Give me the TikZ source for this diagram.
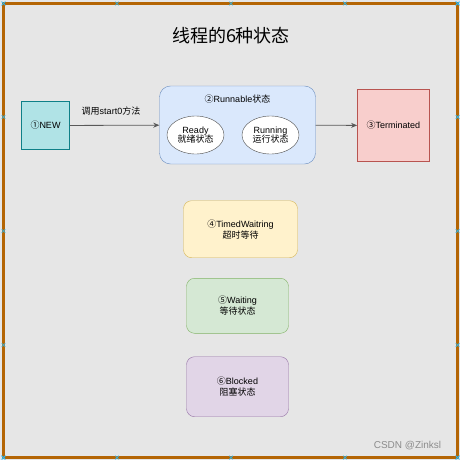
\documentclass[tikz,border=0pt]{standalone}
\usepackage{fontspec}
\setmainfont{Liberation Sans}
\newfontfamily\cjk{Noto Sans CJK SC}
\usetikzlibrary{arrows.meta}
\usetikzlibrary{shapes.geometric}

\definecolor{bgcol}{HTML}{E6E6E6}
\definecolor{framecol}{HTML}{B46504}
\definecolor{handlecol}{HTML}{29B6F2}
\definecolor{newfill}{HTML}{B0E3E6}
\definecolor{newdraw}{HTML}{0E8088}
\definecolor{runfill}{HTML}{DAE8FC}
\definecolor{rundraw}{HTML}{6C8EBF}
\definecolor{termfill}{HTML}{F8CECC}
\definecolor{termdraw}{HTML}{B85450}
\definecolor{timedfill}{HTML}{FFF2CC}
\definecolor{timeddraw}{HTML}{D6B656}
\definecolor{waitfill}{HTML}{D5E8D4}
\definecolor{waitdraw}{HTML}{82B366}
\definecolor{blockfill}{HTML}{E1D5E7}
\definecolor{blockdraw}{HTML}{9673A6}

\tikzset{
  statebox/.style={draw, inner sep=0pt, align=center, font=\fontsize{9}{11}\selectfont},
  roundbox/.style={statebox, rounded corners=8pt},
  oval/.style={ellipse, draw=black!70, fill=white, inner sep=0pt, align=center,
    minimum width=57pt, minimum height=38pt, font=\fontsize{9}{10}\selectfont},
  flow/.style={draw=black!65, line width=0.8pt, -{Stealth[length=6pt,width=5pt]}}
}

\begin{document}
\begin{tikzpicture}[x=1pt,y=-1pt]
\useasboundingbox (0,0) rectangle (460,460);
\fill[bgcol] (0,0) rectangle (460,460);
\draw[framecol, line width=3pt] (3.5,3.5) rectangle (457.5,457.5);

\def\hs{1.8}
\foreach \p in {3.5,117,231,345,457.5}
{
\draw[handlecol, line width=0.7pt] (\p-\hs,3.5-\hs) -- (\p+\hs,3.5+\hs) (\p-\hs,3.5+\hs) -- (\p+\hs,3.5-\hs);
\draw[handlecol, line width=0.7pt] (\p-\hs,457.5-\hs) -- (\p+\hs,457.5+\hs) (\p-\hs,457.5+\hs) -- (\p+\hs,457.5-\hs);
\draw[handlecol, line width=0.7pt] (3.5-\hs,\p-\hs) -- (3.5+\hs,\p+\hs) (3.5-\hs,\p+\hs) -- (3.5+\hs,\p-\hs);
\draw[handlecol, line width=0.7pt] (457.5-\hs,\p-\hs) -- (457.5+\hs,\p+\hs) (457.5-\hs,\p+\hs) -- (457.5+\hs,\p-\hs);
}

\node (title) at (231,36) {\cjk\fontsize{18}{20}\selectfont 线程的6种状态};

\node[statebox, draw=newdraw, fill=newfill, minimum width=48pt, minimum height=48pt] (new) at (45.5,125.5) {{\cjk ①}NEW};

\node[statebox, draw=rundraw, fill=runfill, rounded corners=11pt, minimum width=156pt, minimum height=78pt] (run) at (237.5,125) {};
\node[font=\fontsize{9}{11}\selectfont] (runlbl) at (237.5,99) {{\cjk ②}Runnable{\cjk 状态}};
\node[oval] (ready) at (195.5,135) {Ready\\[-1pt]{\cjk 就绪状态}};
\node[oval] (running) at (270.5,135) {Running\\[-1pt]{\cjk 运行状态}};

\node[statebox, draw=termdraw, fill=termfill, minimum width=72pt, minimum height=72pt] (term) at (393.3,125.5) {{\cjk ③}Terminated};

\node[roundbox, draw=timeddraw, fill=timedfill, minimum width=114pt, minimum height=57pt] (timed) at (240.5,229.2) {{\cjk ④}TimedWaitring\\{\cjk 超时等待}};
\node[roundbox, draw=waitdraw, fill=waitfill, minimum width=102pt, minimum height=55pt] (wait) at (237.5,305.8) {{\cjk ⑤}Waiting\\{\cjk 等待状态}};
\node[roundbox, draw=blockdraw, fill=blockfill, minimum width=102pt, minimum height=60pt] (block) at (237.5,386.7) {{\cjk ⑥}Blocked\\{\cjk 阻塞状态}};

\draw[flow] (new) -- (run);
\draw[flow] (run) -- (term);
\node[font=\fontsize{9}{11}\selectfont] (calllbl) at (111,111) {{\cjk 调用}start0{\cjk 方法}};

\node[text=black!45, font=\fontsize{10}{12}\selectfont] (mark) at (407.5,446) {CSDN @Zinksl};
\end{tikzpicture}
\end{document}
